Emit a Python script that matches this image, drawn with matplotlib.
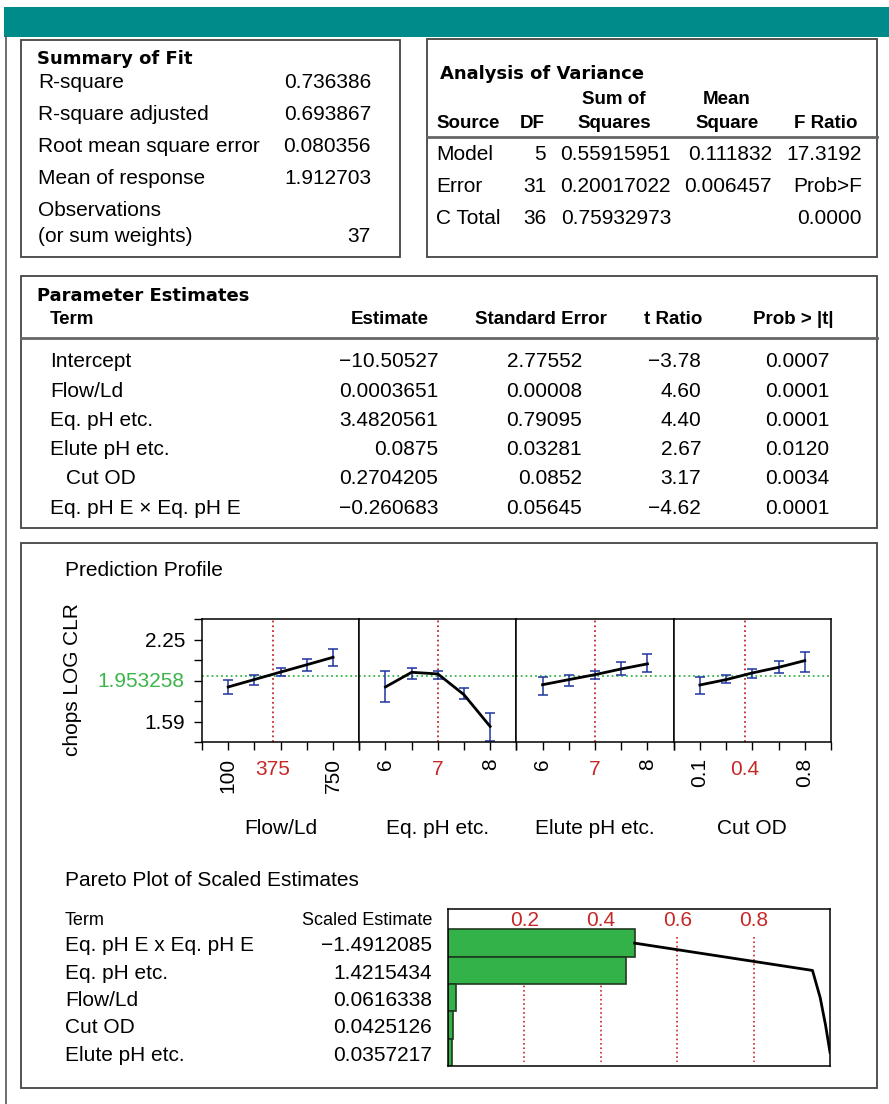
import numpy as np
import matplotlib
matplotlib.use("Agg")
import matplotlib.pyplot as plt
from matplotlib.patches import Rectangle
from matplotlib.lines import Line2D
from matplotlib.transforms import blended_transform_factory

plt.rcParams['font.family'] = ['Liberation Sans', 'DejaVu Sans']

# ---- Summary of Fit ----
fit_labels = ["R-square", "R-square adjusted", "Root mean square error",
              "Mean of response", "Observations", "(or sum weights)"]
fit_values = ["0.736386", "0.693867", "0.080356", "1.912703", "", "37"]

# ---- Analysis of Variance ----
anova_cols = ["Source", "DF", "Sum of\nSquares", "Mean\nSquare", "F Ratio"]
anova_rows = [["Model", "5", "0.55915951", "0.111832", "17.3192"],
              ["Error", "31", "0.20017022", "0.006457", "Prob>F"],
              ["C Total", "36", "0.75932973", "", "0.0000"]]

# ---- Parameter Estimates ----
param_cols = ["Term", "Estimate", "Standard Error", "t Ratio", "Prob > |t|"]
param_terms = ["Intercept", "Flow/Ld", "Eq. pH etc.", "Elute pH etc.", "Cut OD",
               "Eq. pH E \u00d7 Eq. pH E"]
param_est = ["\u221210.50527", "0.0003651", "3.4820561", "0.0875", "0.2704205", "\u22120.260683"]
param_se = ["2.77552", "0.00008", "0.79095", "0.03281", "0.0852", "0.05645"]
param_t = ["\u22123.78", "4.60", "4.40", "2.67", "3.17", "\u22124.62"]
param_p = ["0.0007", "0.0001", "0.0001", "0.0120", "0.0034", "0.0001"]

# ---- Prediction profile ----
current_y = 1.953258
flow_x = [100, 262.5, 425, 587.5, 750]
flow_pred = [1.868, 1.928, 1.988, 2.047, 2.107]
flow_lo = [1.811, 1.881, 1.954, 1.994, 2.034]
flow_hi = [1.921, 1.967, 2.021, 2.094, 2.175]

eqph_x = [6, 6.5, 7, 7.5, 8]
eqph_pred = [1.868, 1.986, 1.973, 1.806, 1.550]
eqph_lo = [1.743, 1.935, 1.935, 1.773, 1.430]
eqph_hi = [1.994, 2.021, 2.000, 1.857, 1.658]

elute_x = [6, 6.5, 7, 7.5, 8]
elute_pred = [1.886, 1.927, 1.967, 2.013, 2.054]
elute_lo = [1.800, 1.873, 1.933, 1.967, 1.986]
elute_hi = [1.949, 1.967, 2.000, 2.070, 2.134]

cutod_x = [0.1, 0.275, 0.45, 0.625, 0.8]
cutod_pred = [1.884, 1.927, 1.981, 2.026, 2.080]
cutod_lo = [1.814, 1.900, 1.937, 1.983, 1.989]
cutod_hi = [1.949, 1.967, 2.010, 2.080, 2.147]

profile_names = ["Flow/Ld", "Eq. pH etc.", "Elute pH etc.", "Cut OD"]
profile_current = [375, 7, 7, 0.4]
profile_current_lbl = ["375", "7", "7", "0.4"]
profile_lims = [(-62.5, 912.5), (5.5, 8.5), (5.5, 8.5), (-0.075, 0.975)]
profile_lbls = [([100, 750], ["100", "750"]), ([6, 8], ["6", "8"]),
                ([6, 8], ["6", "8"]), ([0.1, 0.8], ["0.1", "0.8"])]
y_ticks = [1.425, 1.59, 1.755, 1.92, 2.085, 2.25, 2.415]
y_tick_lbls = ["", "1.59", "", "", "", "2.25", ""]

# ---- Pareto plot ----
pareto_terms = ["Eq. pH E x Eq. pH E", "Eq. pH etc.", "Flow/Ld", "Cut OD", "Elute pH etc."]
pareto_est = [-1.4912085, 1.4215434, 0.0616338, 0.0425126, 0.0357217]
pareto_ticks = [0.2, 0.4, 0.6, 0.8]

RED = '#c62828'
GREEN = '#3bb44a'
BLUE = '#1f35a0'
HEAD = dict(family='Liberation Sans', weight='bold', fontsize=13.5)

W, H = 889, 1104
fig = plt.figure(figsize=(W / 100, H / 100), dpi=100)


def fx(x):
    return x / W


def fy(y):
    return 1 - y / H


def txt(x, y, s, **kw):
    kw.setdefault('va', 'center')
    kw.setdefault('fontsize', 15)
    fig.text(fx(x), fy(y), s, **kw)


def box(x0, y0, x1, y1):
    fig.add_artist(Rectangle((fx(x0), fy(y1)), fx(x1) - fx(x0), fy(y0) - fy(y1),
                             transform=fig.transFigure, fill=False, ec='#444444', lw=1.3))


def hline(x0, x1, y, lw=2, color='#666666'):
    fig.add_artist(Line2D([fx(x0), fx(x1)], [fy(y), fy(y)], transform=fig.transFigure,
                          color=color, lw=lw))


# top band and outer left rule
fig.add_artist(Rectangle((fx(4), fy(37)), 1 - fx(4), 30 / H, transform=fig.transFigure,
                         color='#008b8b', lw=0))
fig.add_artist(Line2D([fx(6), fx(6)], [fy(37), 0], transform=fig.transFigure,
                      color='#555555', lw=1.2))

# Summary of Fit box
box(21, 40, 400, 257)
txt(37, 59, "Summary of Fit", family='DejaVu Sans', weight='bold', fontsize=13)
for lab, val, y in zip(fit_labels, fit_values, [83, 115, 147, 179, 211, 236]):
    txt(38, y, lab)
    txt(371, y, val, ha='right')

# ANOVA box
box(427, 39, 877, 257)
txt(440, 74, "Analysis of Variance", family='DejaVu Sans', weight='bold', fontsize=13)
anova_hx = [436, 532, 614, 727, 826]
for col, x in zip(anova_cols, anova_hx):
    parts = col.split("\n")
    ha = 'left' if x == 436 else 'center'
    if len(parts) == 2:
        txt(x, 99, parts[0], ha=ha, **HEAD)
        txt(x, 123, parts[1], ha=ha, **HEAD)
    else:
        txt(x, 123, parts[0], ha=ha, **HEAD)
hline(427, 877, 137)
anova_rx = [546, 671, 772, 862]
for row, y in zip(anova_rows, [155, 187, 218]):
    txt(436, y, row[0])
    for val, x in zip(row[1:], anova_rx):
        txt(x, y, val, ha='right')

# Parameter Estimates box
box(21, 276, 877, 528)
txt(37, 296, "Parameter Estimates", family='DejaVu Sans', weight='bold', fontsize=13)
txt(50, 320, param_cols[0], **HEAD)
for col, x in zip(param_cols[1:], [390, 541, 673, 793]):
    txt(x, 320, col, ha='center', **HEAD)
hline(21, 877, 338)
for i, y in enumerate([361, 391, 421, 450, 479, 508]):
    term = param_terms[i]
    txt(66 if term == "Cut OD" else 50, y, term)
    txt(438, y, param_est[i], ha='right')
    txt(582, y, param_se[i], ha='right')
    txt(701, y, param_t[i], ha='right')
    txt(829, y, param_p[i], ha='right')

# Prediction profile + pareto box
box(21, 543, 877, 1088)
txt(65, 570, "Prediction Profile")
txt(73, 680, "chops LOG CLR", rotation=90, ha='center')

profile_data = [(flow_x, flow_pred, flow_lo, flow_hi),
                (eqph_x, eqph_pred, eqph_lo, eqph_hi),
                (elute_x, elute_pred, elute_lo, elute_hi),
                (cutod_x, cutod_pred, cutod_lo, cutod_hi)]
edges = [202, 359.3, 516.3, 673.7, 831]
for i in range(4):
    x, pred, lo, hi = [np.array(a, dtype=float) for a in profile_data[i]]
    ax = fig.add_axes([fx(edges[i]), fy(742), fx(edges[i + 1]) - fx(edges[i]), 123 / H])
    ax.axhline(current_y, color=GREEN, ls=':', lw=1.3, zorder=1)
    ax.axvline(profile_current[i], color=RED, ls=':', lw=1.3, zorder=1)
    ax.plot(x, pred, color='black', lw=2, zorder=3)
    ax.errorbar(x, pred, yerr=[pred - lo, hi - pred], fmt='none', ecolor=BLUE,
                elinewidth=1.1, capsize=3.5, capthick=1.1, zorder=2)
    lo_lim, hi_lim = profile_lims[i]
    ax.set_xlim(lo_lim, hi_lim)
    ax.set_ylim(y_ticks[0], y_ticks[-1])
    ax.set_xticks([lo_lim] + list(x) + [hi_lim])
    ax.set_xticklabels([])
    ax.tick_params(axis='x', direction='out', length=6, width=1)
    for sp in ax.spines.values():
        sp.set_linewidth(1.1)
    if i == 0:
        ax.set_yticks(y_ticks)
        ax.set_yticklabels(y_tick_lbls, fontsize=15)
        ax.tick_params(axis='y', direction='out', length=6, width=1, pad=6)
        ax.annotate("1.953258", xy=(0, current_y), xycoords=('axes fraction', 'data'),
                    xytext=(-13, -4), textcoords='offset points', ha='right', va='center',
                    color=GREEN, fontsize=15, annotation_clip=False)
    else:
        ax.set_yticks([])
    tr = blended_transform_factory(ax.transData, ax.transAxes)
    for v, s in zip(*profile_lbls[i]):
        ax.text(v, -0.13, s, transform=tr, rotation=90, ha='center', va='top', fontsize=15)
    ax.text(profile_current[i], -0.225, profile_current_lbl[i], transform=tr, ha='center',
            va='center', fontsize=15, color=RED)
    txt((edges[i] + edges[i + 1]) / 2, 828, profile_names[i], ha='center')

# Pareto plot
txt(65, 880, "Pareto Plot of Scaled Estimates")
pax = fig.add_axes([fx(448), fy(1066), fx(830) - fx(448), (1066 - 909) / H])
est = np.array(pareto_est)
frac = np.abs(est) / np.abs(est).sum()
rows = np.arange(len(pareto_terms))
pax.vlines(pareto_ticks, -0.22, 4.36, colors=RED, linestyles=':', lw=1.2, zorder=0)
pax.barh(rows, frac, height=1.0, left=0, color='#33b24a', edgecolor='#1e3a1e', lw=1.2, zorder=2)
pax.plot(np.cumsum(frac), rows, color='black', lw=2, zorder=3)
pax.set_xlim(0, 1)
pax.set_ylim(4.5, -1.25)
pax.set_xticks([])
pax.set_yticks([])
for sp in pax.spines.values():
    sp.set_linewidth(1.1)
for t in pareto_ticks:
    pax.text(t, -0.82, f"{t:.1f}", ha='center', va='center', color=RED, fontsize=15)
tr = blended_transform_factory(fig.transFigure, pax.transData)
pax.text(fx(65), -0.82, "Term", transform=tr, ha='left', va='center', fontsize=13, clip_on=False)
pax.text(fx(432), -0.82, "Scaled Estimate", transform=tr, ha='right', va='center',
         fontsize=13, clip_on=False)
for r, term, e in zip(rows, pareto_terms, pareto_est):
    pax.text(fx(65), r + 0.1, term, transform=tr, ha='left', va='center', fontsize=15,
             clip_on=False)
    pax.text(fx(432), r + 0.1, f"{e:.7f}".replace("-", "\u2212"), transform=tr,
             ha='right', va='center', fontsize=15, clip_on=False)

fig.savefig("out.png", dpi=100)
